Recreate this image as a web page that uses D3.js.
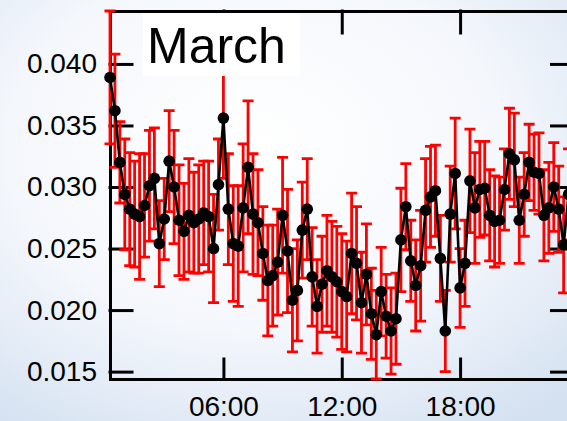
<!DOCTYPE html>
<html>
  <head>
    <meta charset="utf-8">
    <title>March</title>
    <script src="https://cdn.jsdelivr.net/npm/d3@7"></script>
    <style>
      body { margin: 0; overflow: hidden; }
      .axis path, .axis line { stroke: black; stroke-width: 3px; stroke-linecap: square; }
      .axis text { font-family: 'Liberation Sans', Arial, sans-serif; font-size: 28px; fill: black; }
      .err { stroke: red; stroke-width: 2.8px; fill: none; }
      .trace { stroke: black; stroke-width: 2.6px; fill: none; }
      .dot { fill: black; }
      .title { font-family: 'Liberation Sans', Arial, sans-serif; font-size: 50px; fill: black; }
    </style>
  </head>
  <body>
    <script>

      // values, one every 15 minutes from 00:15
      var stepHours = 0.25;
      var means = [
        0.0389, 0.0362, 0.0320, 0.0294, 0.0282, 0.0278, 0.0276, 0.0285, 0.0301, 0.0307,
        0.0254, 0.0274, 0.0321, 0.0300, 0.0273, 0.0264, 0.0277, 0.0271, 0.0274, 0.0279,
        0.0276, 0.0250, 0.0302, 0.0356, 0.0282, 0.0254, 0.0252, 0.0283, 0.0316, 0.0278,
        0.0271, 0.0246, 0.0224, 0.0228, 0.0239, 0.0277, 0.0248, 0.0208, 0.0216, 0.0265,
        0.0282, 0.0227, 0.0203, 0.0221, 0.0232, 0.0227, 0.0223, 0.0215, 0.0211, 0.0246,
        0.0238, 0.0206, 0.0229, 0.0197, 0.0180, 0.0215, 0.0195, 0.0183, 0.0193, 0.0257,
        0.0284, 0.0240, 0.0220, 0.0236, 0.0281, 0.0292, 0.0297, 0.0242, 0.0183, 0.0278,
        0.0311, 0.0218, 0.0238, 0.0305, 0.0283, 0.0298, 0.0299, 0.0277, 0.0272, 0.0273,
        0.0298, 0.0327, 0.0322, 0.0273, 0.0294, 0.0320, 0.0312, 0.0311, 0.0277, 0.0283,
        0.0300, 0.0282, 0.0253, 0.0294
      ];
      var errors = [
        0.0054, 0.0046, 0.0033, 0.0045, 0.0046, 0.0043, 0.0051, 0.0042, 0.0045, 0.0041,
        0.0035, 0.0033, 0.0041, 0.0046, 0.0045, 0.0039, 0.0046, 0.0041, 0.0044, 0.0042,
        0.0045, 0.0044, 0.0037, 0.0049, 0.0045, 0.0047, 0.0049, 0.0052, 0.0054, 0.0049,
        0.0043, 0.0038, 0.0045, 0.0041, 0.0043, 0.0047, 0.0050, 0.0042, 0.0041, 0.0039,
        0.0041, 0.0040, 0.0038, 0.0039, 0.0045, 0.0045, 0.0045, 0.0047, 0.0045, 0.0049,
        0.0046, 0.0041, 0.0041, 0.0037, 0.0036, 0.0036, 0.0034, 0.0035, 0.0037, 0.0042,
        0.0035, 0.0033, 0.0037, 0.0045, 0.0042, 0.0041, 0.0037, 0.0035, 0.0033, 0.0039,
        0.0045, 0.0032, 0.0035, 0.0042, 0.0045, 0.0039, 0.0038, 0.0037, 0.0037, 0.0035,
        0.0033, 0.0037, 0.0038, 0.0035, 0.0034, 0.0031, 0.0031, 0.0033, 0.0037, 0.0037,
        0.0036, 0.0035, 0.0039, 0.0037
      ];
      var yTicks = [0.015, 0.020, 0.025, 0.030, 0.035, 0.040];
      var xTicks = [6, 12, 18];
      var xTickLabels = ["06:00", "12:00", "18:00"];
      var titleText = "March";

      // layout (plot box runs a little past the right edge of the window)
      var width = 567, height = 421;
      var plotLeft = 110, plotRight = 573.5, plotTop = 11, plotBottom = 379;

      var xScale = d3.scaleLinear().domain([0.25, 23.75]).range([plotLeft, plotRight]);
      var yScale = d3.scaleLinear().domain([0.0144, 0.0443]).range([plotBottom, plotTop]);

      var svg = d3.select("body").append("svg")
        .attr("width", width)
        .attr("height", height);

      // soft blue background
      var defs = svg.append("defs");
      var grad = defs.append("radialGradient")
        .attr("id", "bg")
        .attr("cx", "45%").attr("cy", "35%").attr("r", "80%");
      grad.append("stop").attr("offset", "0%").attr("stop-color", "#ffffff");
      grad.append("stop").attr("offset", "55%").attr("stop-color", "#f4f7fc");
      grad.append("stop").attr("offset", "100%").attr("stop-color", "#d4e1f1");
      svg.append("rect")
        .attr("width", width).attr("height", height)
        .attr("fill", "url(#bg)");

      var points = means.map(function(m, i) {
        return { t: (i + 1) * stepHours, v: m, e: errors[i] };
      });

      // axes, ticks pointing inwards
      svg.append("g").attr("class", "axis")
        .attr("transform", "translate(" + plotLeft + ",0)")
        .call(d3.axisLeft(yScale).tickValues(yTicks).tickFormat(d3.format(".3f"))
          .tickSizeInner(-22).tickSizeOuter(0).tickPadding(13));

      svg.append("g").attr("class", "axis")
        .attr("transform", "translate(" + plotRight + ",0)")
        .call(d3.axisRight(yScale).tickValues(yTicks).tickFormat("")
          .tickSizeInner(-22).tickSizeOuter(0));

      svg.append("g").attr("class", "axis")
        .attr("transform", "translate(0," + plotBottom + ")")
        .call(d3.axisBottom(xScale).tickValues(xTicks)
          .tickFormat(function(d, i) { return xTickLabels[i]; })
          .tickSizeInner(-20).tickSizeOuter(0).tickPadding(17));

      svg.append("g").attr("class", "axis")
        .attr("transform", "translate(0," + plotTop + ")")
        .call(d3.axisTop(xScale).tickValues(xTicks).tickFormat("")
          .tickSizeInner(-22).tickSizeOuter(0));

      // error bars
      var capHalf = 5.5;
      svg.append("g").selectAll("path")
        .data(points)
        .enter()
        .append("path")
        .attr("class", "err")
        .attr("d", function(d) {
          var x = xScale(d.t), y1 = yScale(d.v + d.e), y0 = yScale(d.v - d.e);
          return "M" + x + "," + y1 + "V" + y0 +
                 "M" + (x - capHalf) + "," + y1 + "H" + (x + capHalf) +
                 "M" + (x - capHalf) + "," + y0 + "H" + (x + capHalf);
        });

      // mean line and dots
      var line = d3.line()
        .x(function(d) { return xScale(d.t); })
        .y(function(d) { return yScale(d.v); });

      svg.append("path")
        .datum(points)
        .attr("class", "trace")
        .attr("d", line);

      svg.append("g").selectAll("circle")
        .data(points)
        .enter()
        .append("circle")
        .attr("class", "dot")
        .attr("cx", function(d) { return xScale(d.t); })
        .attr("cy", function(d) { return yScale(d.v); })
        .attr("r", 5.8);

      // title in a white box over the data
      svg.append("rect")
        .attr("x", 143).attr("y", 13)
        .attr("width", 157).attr("height", 63)
        .attr("fill", "white");
      svg.append("text")
        .attr("class", "title")
        .attr("x", 147).attr("y", 63)
        .text(titleText);

    </script>
  </body>
</html>
